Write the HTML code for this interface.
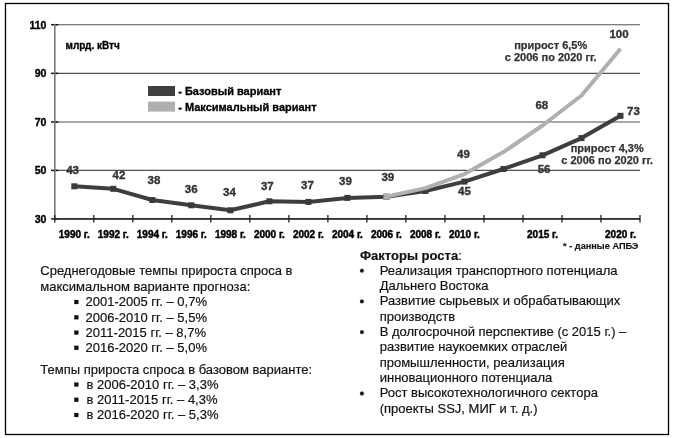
<!DOCTYPE html><html><head><meta charset="utf-8"><style>html,body{margin:0;padding:0;background:#fff;width:673px;height:438px;overflow:hidden}svg{display:block;will-change:transform}text{font-family:"Liberation Sans",sans-serif}</style></head><body>
<svg width="673" height="438" viewBox="0 0 673 438">
<rect x="0" y="0" width="673" height="438" fill="#fff"/>
<rect x="5.5" y="3.5" width="663" height="431" fill="none" stroke="#000" stroke-width="1.3"/>
<line x1="54.8" y1="24.7" x2="640" y2="24.7" stroke="#525252" stroke-width="1.15"/>
<line x1="51.099999999999994" y1="24.7" x2="58.3" y2="24.7" stroke="#111" stroke-width="1.5"/>
<line x1="54.8" y1="73.4" x2="640" y2="73.4" stroke="#525252" stroke-width="1.15"/>
<line x1="51.099999999999994" y1="73.4" x2="58.3" y2="73.4" stroke="#111" stroke-width="1.5"/>
<line x1="54.8" y1="122.0" x2="640" y2="122.0" stroke="#525252" stroke-width="1.15"/>
<line x1="51.099999999999994" y1="122.0" x2="58.3" y2="122.0" stroke="#111" stroke-width="1.5"/>
<line x1="54.8" y1="170.4" x2="640" y2="170.4" stroke="#525252" stroke-width="1.15"/>
<line x1="51.099999999999994" y1="170.4" x2="58.3" y2="170.4" stroke="#111" stroke-width="1.5"/>
<line x1="54.8" y1="218.9" x2="640" y2="218.9" stroke="#525252" stroke-width="1.15"/>
<line x1="51.099999999999994" y1="218.9" x2="58.3" y2="218.9" stroke="#111" stroke-width="1.5"/>
<line x1="54.8" y1="24" x2="54.8" y2="219" stroke="#777" stroke-width="1.6"/>
<line x1="54.8" y1="218.9" x2="640" y2="218.9" stroke="#333" stroke-width="1.6"/>
<line x1="54.80" y1="215" x2="54.80" y2="222.6" stroke="#222" stroke-width="1.3"/>
<line x1="93.81" y1="215" x2="93.81" y2="222.6" stroke="#222" stroke-width="1.3"/>
<line x1="132.83" y1="215" x2="132.83" y2="222.6" stroke="#222" stroke-width="1.3"/>
<line x1="171.84" y1="215" x2="171.84" y2="222.6" stroke="#222" stroke-width="1.3"/>
<line x1="210.85" y1="215" x2="210.85" y2="222.6" stroke="#222" stroke-width="1.3"/>
<line x1="249.87" y1="215" x2="249.87" y2="222.6" stroke="#222" stroke-width="1.3"/>
<line x1="288.88" y1="215" x2="288.88" y2="222.6" stroke="#222" stroke-width="1.3"/>
<line x1="327.89" y1="215" x2="327.89" y2="222.6" stroke="#222" stroke-width="1.3"/>
<line x1="366.91" y1="215" x2="366.91" y2="222.6" stroke="#222" stroke-width="1.3"/>
<line x1="405.92" y1="215" x2="405.92" y2="222.6" stroke="#222" stroke-width="1.3"/>
<line x1="444.93" y1="215" x2="444.93" y2="222.6" stroke="#222" stroke-width="1.3"/>
<line x1="483.95" y1="215" x2="483.95" y2="222.6" stroke="#222" stroke-width="1.3"/>
<line x1="522.96" y1="215" x2="522.96" y2="222.6" stroke="#222" stroke-width="1.3"/>
<line x1="561.97" y1="215" x2="561.97" y2="222.6" stroke="#222" stroke-width="1.3"/>
<line x1="600.99" y1="215" x2="600.99" y2="222.6" stroke="#222" stroke-width="1.3"/>
<line x1="640.00" y1="215" x2="640.00" y2="222.6" stroke="#222" stroke-width="1.3"/>
<text x="46.5" y="28.7" font-size="10.6" font-weight="bold" text-anchor="end" fill="#000" stroke="#000" stroke-width="0.35">110</text>
<text x="46.5" y="77.4" font-size="10.6" font-weight="bold" text-anchor="end" fill="#000" stroke="#000" stroke-width="0.35">90</text>
<text x="46.5" y="126.0" font-size="10.6" font-weight="bold" text-anchor="end" fill="#000" stroke="#000" stroke-width="0.35">70</text>
<text x="46.5" y="174.4" font-size="10.6" font-weight="bold" text-anchor="end" fill="#000" stroke="#000" stroke-width="0.35">50</text>
<text x="46.5" y="222.9" font-size="10.6" font-weight="bold" text-anchor="end" fill="#000" stroke="#000" stroke-width="0.35">30</text>
<text x="74.3" y="237.5" font-size="10" font-weight="bold" text-anchor="middle" fill="#000" stroke="#000" stroke-width="0.45">1990 г.</text>
<text x="113.3" y="237.5" font-size="10" font-weight="bold" text-anchor="middle" fill="#000" stroke="#000" stroke-width="0.45">1992 г.</text>
<text x="152.3" y="237.5" font-size="10" font-weight="bold" text-anchor="middle" fill="#000" stroke="#000" stroke-width="0.45">1994 г.</text>
<text x="191.3" y="237.5" font-size="10" font-weight="bold" text-anchor="middle" fill="#000" stroke="#000" stroke-width="0.45">1996 г.</text>
<text x="230.4" y="237.5" font-size="10" font-weight="bold" text-anchor="middle" fill="#000" stroke="#000" stroke-width="0.45">1998 г.</text>
<text x="269.4" y="237.5" font-size="10" font-weight="bold" text-anchor="middle" fill="#000" stroke="#000" stroke-width="0.45">2000 г.</text>
<text x="308.4" y="237.5" font-size="10" font-weight="bold" text-anchor="middle" fill="#000" stroke="#000" stroke-width="0.45">2002 г.</text>
<text x="347.4" y="237.5" font-size="10" font-weight="bold" text-anchor="middle" fill="#000" stroke="#000" stroke-width="0.45">2004 г.</text>
<text x="386.4" y="237.5" font-size="10" font-weight="bold" text-anchor="middle" fill="#000" stroke="#000" stroke-width="0.45">2006 г.</text>
<text x="425.4" y="237.5" font-size="10" font-weight="bold" text-anchor="middle" fill="#000" stroke="#000" stroke-width="0.45">2008 г.</text>
<text x="464.4" y="237.5" font-size="10" font-weight="bold" text-anchor="middle" fill="#000" stroke="#000" stroke-width="0.45">2010 г.</text>
<text x="542.5" y="237.5" font-size="10" font-weight="bold" text-anchor="middle" fill="#000" stroke="#000" stroke-width="0.45">2015 г.</text>
<text x="620.5" y="237.5" font-size="10" font-weight="bold" text-anchor="middle" fill="#000" stroke="#000" stroke-width="0.45">2020 г.</text>
<text x="65.5" y="48.5" font-size="10" font-weight="bold" fill="#000" stroke="#000" stroke-width="0.3">млрд. кВтч</text>
<rect x="148" y="86" width="27" height="10" fill="#404040"/>
<rect x="148" y="101.6" width="27" height="10" fill="#b0b0b0"/>
<text x="178.2" y="95" font-size="11" font-weight="bold" fill="#000" stroke="#000" stroke-width="0.3">- Базовый вариант</text>
<text x="178.2" y="110.6" font-size="11" font-weight="bold" fill="#000" stroke="#000" stroke-width="0.3">- Максимальный вариант</text>
<polyline points="74.30666666666667,186.3 113.32,188.8 152.33333333333331,200.0 191.3466666666667,205.3 230.36,210.3 269.37333333333333,201.3 308.38666666666666,201.9 347.40000000000003,197.9 386.41333333333336,196.70000000000002 425.4266666666667,191.0 464.44000000000005,181.60000000000002 503.4533333333334,169.0 542.4666666666667,155.3 581.48,138.10000000000002 620.4933333333333,115.8" fill="none" stroke="#3e3e3e" stroke-width="4.0" stroke-linejoin="round"/>
<rect x="71.3" y="183.3" width="6" height="6" fill="#3a3a3a"/>
<rect x="110.3" y="185.8" width="6" height="6" fill="#3a3a3a"/>
<rect x="149.3" y="197.0" width="6" height="6" fill="#3a3a3a"/>
<rect x="188.3" y="202.3" width="6" height="6" fill="#3a3a3a"/>
<rect x="227.4" y="207.3" width="6" height="6" fill="#3a3a3a"/>
<rect x="266.4" y="198.3" width="6" height="6" fill="#3a3a3a"/>
<rect x="305.4" y="198.9" width="6" height="6" fill="#3a3a3a"/>
<rect x="344.4" y="194.9" width="6" height="6" fill="#3a3a3a"/>
<rect x="383.4" y="193.7" width="6" height="6" fill="#3a3a3a"/>
<rect x="422.4" y="188.0" width="6" height="6" fill="#3a3a3a"/>
<rect x="461.4" y="178.6" width="6" height="6" fill="#3a3a3a"/>
<rect x="500.5" y="166.0" width="6" height="6" fill="#3a3a3a"/>
<rect x="539.5" y="152.3" width="6" height="6" fill="#3a3a3a"/>
<rect x="578.5" y="135.1" width="6" height="6" fill="#3a3a3a"/>
<rect x="617.5" y="112.8" width="6" height="6" fill="#3a3a3a"/>
<polyline points="386.41333333333336,196.6 425.4266666666667,188.1 464.44000000000005,174.1 503.4533333333334,152.1 542.4666666666667,125.5 581.48,95.5 620.4933333333333,48.8" fill="none" stroke="#b0b0b0" stroke-width="4.0" stroke-linejoin="round"/>
<rect x="383.4" y="193.6" width="6" height="6" fill="#b0b0b0"/>
<text x="72.6" y="174.1" font-size="11.5" font-weight="bold" text-anchor="middle" fill="#333" stroke="#333" stroke-width="0.35">43</text>
<text x="119" y="179.1" font-size="11.5" font-weight="bold" text-anchor="middle" fill="#333" stroke="#333" stroke-width="0.35">42</text>
<text x="154" y="183.9" font-size="11.5" font-weight="bold" text-anchor="middle" fill="#333" stroke="#333" stroke-width="0.35">38</text>
<text x="191.2" y="192.6" font-size="11.5" font-weight="bold" text-anchor="middle" fill="#333" stroke="#333" stroke-width="0.35">36</text>
<text x="229.5" y="195.6" font-size="11.5" font-weight="bold" text-anchor="middle" fill="#333" stroke="#333" stroke-width="0.35">34</text>
<text x="267.3" y="190.4" font-size="11.5" font-weight="bold" text-anchor="middle" fill="#333" stroke="#333" stroke-width="0.35">37</text>
<text x="307.4" y="188.8" font-size="11.5" font-weight="bold" text-anchor="middle" fill="#333" stroke="#333" stroke-width="0.35">37</text>
<text x="345.5" y="185.2" font-size="11.5" font-weight="bold" text-anchor="middle" fill="#333" stroke="#333" stroke-width="0.35">39</text>
<text x="387.8" y="180.6" font-size="11.5" font-weight="bold" text-anchor="middle" fill="#333" stroke="#333" stroke-width="0.35">39</text>
<text x="463.4" y="157.6" font-size="11.5" font-weight="bold" text-anchor="middle" fill="#333" stroke="#333" stroke-width="0.35">49</text>
<text x="464.4" y="195.1" font-size="11.5" font-weight="bold" text-anchor="middle" fill="#333" stroke="#333" stroke-width="0.35">45</text>
<text x="544.1" y="173.2" font-size="11.5" font-weight="bold" text-anchor="middle" fill="#333" stroke="#333" stroke-width="0.35">56</text>
<text x="541.8" y="109.2" font-size="11.5" font-weight="bold" text-anchor="middle" fill="#333" stroke="#333" stroke-width="0.35">68</text>
<text x="619" y="38.4" font-size="11.5" font-weight="bold" text-anchor="middle" fill="#333" stroke="#333" stroke-width="0.35">100</text>
<text x="633.5" y="115.4" font-size="11.5" font-weight="bold" text-anchor="middle" fill="#333" stroke="#333" stroke-width="0.35">73</text>
<text x="550.7" y="49.2" font-size="11" font-weight="bold" text-anchor="middle" fill="#333" stroke="#333" stroke-width="0.25">прирост 6,5%</text>
<text x="550.7" y="61.2" font-size="11" font-weight="bold" text-anchor="middle" fill="#333" stroke="#333" stroke-width="0.25">с 2006 по 2020 гг.</text>
<text x="607.2" y="152.3" font-size="11" font-weight="bold" text-anchor="middle" fill="#333" stroke="#333" stroke-width="0.25">прирост 4,3%</text>
<text x="607.2" y="164.4" font-size="11" font-weight="bold" text-anchor="middle" fill="#333" stroke="#333" stroke-width="0.25">с 2006 по 2020 гг.</text>
<text x="563.1" y="249.1" font-size="9.2" font-weight="bold" fill="#111" stroke="#111" stroke-width="0.12">* - данные АПБЭ</text>
<g font-size="13" fill="#111" stroke="#111" stroke-width="0.18">
<text x="40.3" y="275.4">Среднегодовые темпы прироста спроса в</text>
<text x="40.3" y="290.7">максимальном варианте прогноза:</text>
<rect x="74.3" y="300.0" width="4.1" height="4" fill="#111"/>
<text x="85.6" y="306.4">2001-2005 гг. – 0,7%</text>
<rect x="74.3" y="315.3" width="4.1" height="4" fill="#111"/>
<text x="85.6" y="321.7">2006-2010 гг. – 5,5%</text>
<rect x="74.3" y="330.6" width="4.1" height="4" fill="#111"/>
<text x="85.6" y="337.0">2011-2015 гг. – 8,7%</text>
<rect x="74.3" y="345.9" width="4.1" height="4" fill="#111"/>
<text x="85.6" y="352.3">2016-2020 гг. – 5,0%</text>
<text x="40.3" y="373.5">Темпы прироста спроса в базовом варианте:</text>
<rect x="74.3" y="382.6" width="4.1" height="4" fill="#111"/>
<text x="86.6" y="389.0">в 2006-2010 гг. – 3,3%</text>
<rect x="74.3" y="397.8" width="4.1" height="4" fill="#111"/>
<text x="86.6" y="404.2">в 2011-2015 гг. – 4,3%</text>
<rect x="74.3" y="413.0" width="4.1" height="4" fill="#111"/>
<text x="86.6" y="419.4">в 2016-2020 гг. – 5,3%</text>
</g>
<g font-size="13" fill="#111" stroke="#111" stroke-width="0.18">
<text x="360" y="259.8"><tspan font-weight="bold">Факторы роста</tspan>:</text>
<circle cx="361.9" cy="270.7" r="1.9" fill="#111"/>
<text x="379.7" y="274.6">Реализация транспортного потенциала</text>
<text x="379.7" y="290.0">Дальнего Востока</text>
<circle cx="361.9" cy="301.4" r="1.9" fill="#111"/>
<text x="379.7" y="305.3">Развитие сырьевых и обрабатывающих</text>
<text x="379.7" y="320.7">производств</text>
<circle cx="361.9" cy="332.1" r="1.9" fill="#111"/>
<text x="379.7" y="336.0">В долгосрочной перспективе (с 2015 г.) –</text>
<text x="379.7" y="351.4">развитие наукоемких отраслей</text>
<text x="379.7" y="366.7">промышленности, реализация</text>
<text x="379.7" y="382.1">инновационного потенциала</text>
<circle cx="361.9" cy="393.5" r="1.9" fill="#111"/>
<text x="379.7" y="397.4">Рост высокотехнологичного сектора</text>
<text x="379.7" y="412.8">(проекты SSJ, МИГ и т. д.)</text>
</g>
</svg></body></html>
